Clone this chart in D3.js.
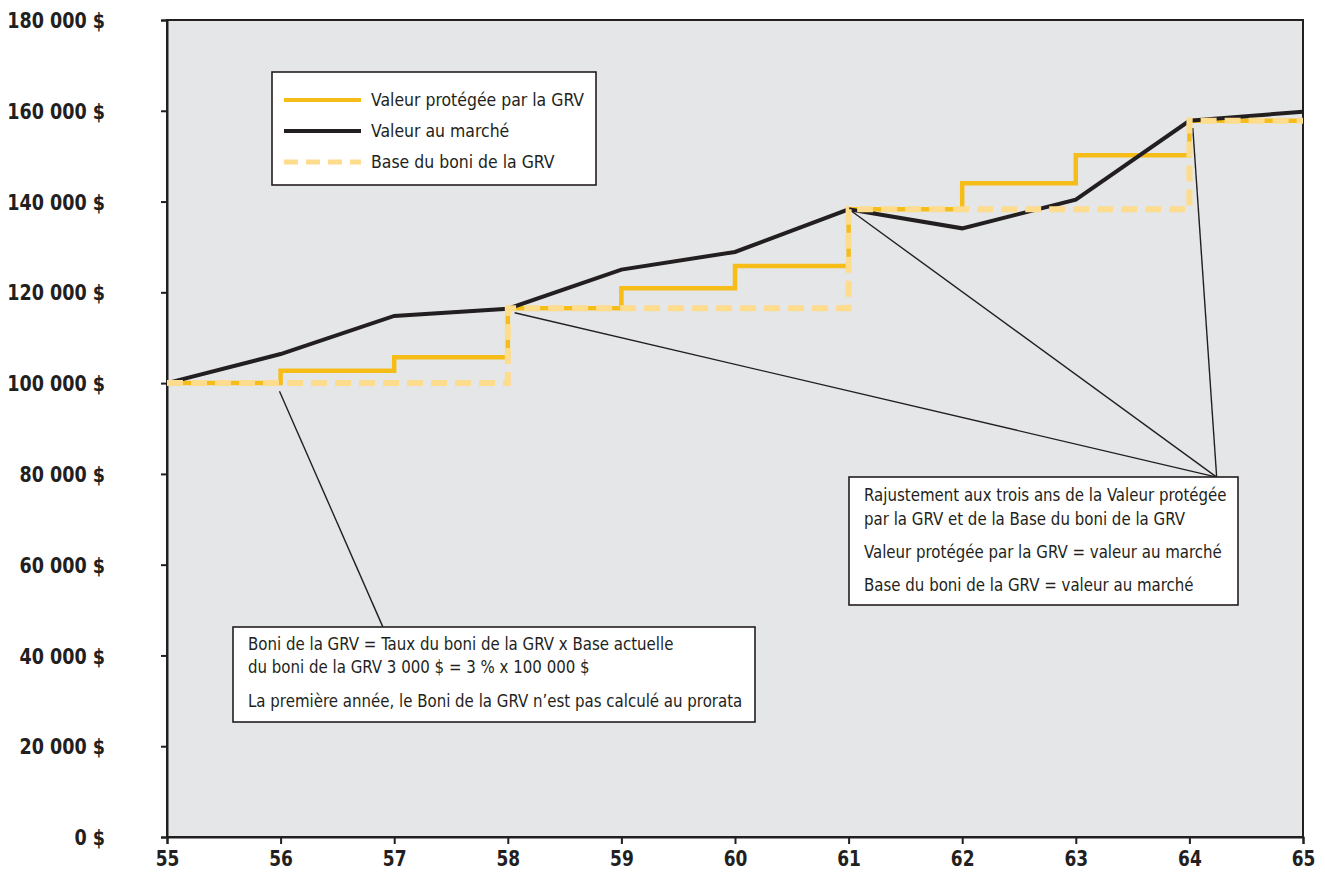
<!DOCTYPE html>
<html><head><meta charset="utf-8">
<script src="https://cdnjs.cloudflare.com/ajax/libs/d3/7.8.5/d3.min.js"></script>
<style>
body{margin:0;background:#fff;}
text{font-family:"DejaVu Sans Condensed","Open Sans",sans-serif;}
</style></head><body>
<svg id="c" width="1325" height="880"></svg>
<script>
const years = [55,56,57,58,59,60,61,62,63,64,65];
const marketValue = [100000,106400,114800,116400,125000,128900,138300,134100,140400,157800,159800];
const protectedValue = [100000,102700,105700,116500,120900,125800,138300,144050,150200,157800,157800];
const bonusBase = [100000,100000,100000,116500,116500,116500,138300,138300,138300,157800,157800];
const yTicks = [0,20000,40000,60000,80000,100000,120000,140000,160000,180000];
const xTicks = [55,56,57,58,59,60,61,62,63,64,65];
const legendLabels = ["Valeur protégée par la GRV","Valeur au marché","Base du boni de la GRV"];
const note1 = ["Boni de la GRV = Taux du boni de la GRV x Base actuelle","du boni de la GRV 3 000 $ = 3 % x 100 000 $","La première année, le Boni de la GRV n’est pas calculé au prorata"];
const note2 = ["Rajustement aux trois ans de la Valeur protégée","par la GRV et de la Base du boni de la GRV","Valeur protégée par la GRV = valeur au marché","Base du boni de la GRV = valeur au marché"];

const svg = d3.select("#c");
const x = d3.scaleLinear().domain([55,65]).range([167,1303]);
const y = d3.scaleLinear().domain([0,180000]).range([837,20]);
const GOLD="#F6BD19", LIGHT="#FDDC8E", DARK="#231F20";

function condense(sel, f){
  sel.each(function(){
    const w = this.getComputedTextLength();
    d3.select(this).attr("textLength", w*f).attr("lengthAdjust","spacingAndGlyphs");
  });
}

svg.append("rect").attr("x",x(55)).attr("y",y(180000)).attr("width",x(65)-x(55)).attr("height",y(0)-y(180000))
  .attr("fill","#E5E6E8").attr("stroke",DARK).attr("stroke-width",2);

const fmt = v => d3.format(",")(v).replace(/,/g," ") + " $";
const ya = svg.append("g").attr("transform",`translate(${x(55)},0)`)
  .call(d3.axisLeft(y).tickValues(yTicks).tickSize(6).tickPadding(56).tickFormat(fmt));
ya.select(".domain").attr("stroke",DARK).attr("stroke-width",2);
ya.selectAll(".tick line").attr("stroke",DARK).attr("stroke-width",2);
ya.selectAll(".tick text").attr("font-size",21).attr("font-weight","bold").attr("fill",DARK)
  .attr("font-family",'"DejaVu Sans Condensed",sans-serif').attr("dy","0.36em");
condense(ya.selectAll(".tick text"), 0.93);

const xa = svg.append("g").attr("transform",`translate(0,${y(0)})`)
  .call(d3.axisBottom(x).tickValues(xTicks).tickSize(7).tickPadding(7).tickFormat(d3.format("d")));
xa.select(".domain").attr("stroke",DARK).attr("stroke-width",2);
xa.selectAll(".tick line").attr("stroke",DARK).attr("stroke-width",2);
xa.selectAll(".tick text").attr("font-size",21).attr("font-weight","bold").attr("fill",DARK)
  .attr("font-family",'"DejaVu Sans Condensed",sans-serif');
condense(xa.selectAll(".tick text"), 0.9);

// leader lines
const leaders = [
  [[55.99,98200],[56.9,46300]],
  [[58.06,115500],[64.24,79300]],
  [[61.03,137800],[64.24,79300]],
  [[64.03,156200],[64.24,79300]]
];
const lineGen = d3.line().x(d=>x(d[0])).y(d=>y(d[1]));
leaders.forEach(l=>svg.append("path").attr("d",lineGen(l)).attr("stroke",DARK).attr("stroke-width",1.4).attr("fill","none"));

const stepLine = d3.line().x((d,i)=>x(years[i])).y(d=>y(d)).curve(d3.curveStepAfter);
const plainLine = d3.line().x((d,i)=>x(years[i])).y(d=>y(d));

svg.append("path").attr("d",stepLine(protectedValue)).attr("fill","none").attr("stroke",GOLD).attr("stroke-width",4.5);
svg.append("path").attr("d",plainLine(marketValue)).attr("fill","none").attr("stroke",DARK).attr("stroke-width",4);
svg.append("path").attr("d",stepLine(bonusBase)).attr("fill","none").attr("stroke",LIGHT).attr("stroke-width",6)
  .attr("stroke-dasharray","16,8");

// legend
const lg = svg.append("g");
lg.append("rect").attr("x",272).attr("y",72).attr("width",324).attr("height",113).attr("fill","#fff").attr("stroke",DARK).attr("stroke-width",1.6);
const lstyles = [{c:GOLD,w:4,d:null},{c:DARK,w:4,d:null},{c:LIGHT,w:5,d:"14,8"}];
legendLabels.forEach((t,i)=>{
  const yy = 100 + i*31;
  const ln = lg.append("line").attr("x1",284).attr("x2",361).attr("y1",yy).attr("y2",yy)
    .attr("stroke",lstyles[i].c).attr("stroke-width",lstyles[i].w);
  if(lstyles[i].d) ln.attr("stroke-dasharray",lstyles[i].d);
  lg.append("text").attr("x",371).attr("y",yy+6).attr("font-size",18).attr("fill",DARK).text(t);
});
condense(lg.selectAll("text"), 0.97);

// note boxes
function box(x0,y0,w,h,lines,ys,tx){
  const g = svg.append("g");
  g.append("rect").attr("x",x0).attr("y",y0).attr("width",w).attr("height",h).attr("fill","#fff").attr("stroke",DARK).attr("stroke-width",1.6);
  lines.forEach((t,i)=>g.append("text").attr("x",tx).attr("y",ys[i]).attr("font-size",18).attr("fill",DARK).text(t));
  condense(g.selectAll("text"), 0.927);
}
box(233,627,522,95,note1,[650,673,707],248);
box(849,477,389,128,note2,[501,525,558,591],864);
</script></body></html>
